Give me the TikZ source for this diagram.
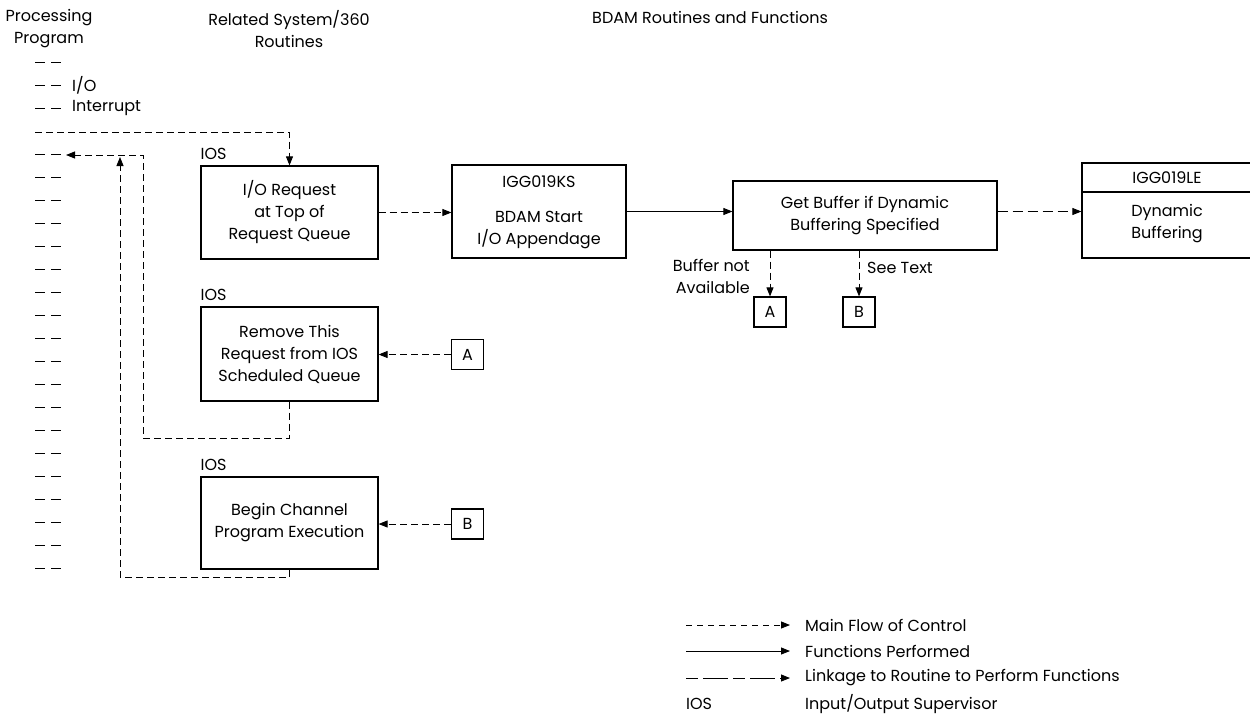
\documentclass[tikz,border=0pt]{standalone}
\usepackage{fontspec}
\setmainfont{Poppins}
\usetikzlibrary{arrows.meta}
\newcommand\myfs{\fontsize{16}{22}\selectfont}
\tikzset{
  box/.style={draw, line width=1.2pt, align=center, inner sep=0pt, font=\myfs},
  tx/.style={inner sep=0pt, font=\myfs, align=center},
  tip/.style={-{Triangle[length=9pt,width=7pt]}},
  mainflow/.style={line width=0.9pt, dash pattern=on 7pt off 4pt, tip},
  func/.style={line width=0.9pt, tip},
  linkflow/.style={line width=0.9pt, dash pattern=on 10pt off 5pt, tip},
  linklegend/.style={line width=0.9pt, dash pattern=on 12pt off 5pt on 25pt off 5pt, tip},
  coldash/.style={line width=0.9pt, dash pattern=on 10pt off 6pt},
}
\begin{document}
\begin{tikzpicture}[x=1pt,y=-1pt]
\useasboundingbox (0,0) rectangle (1250,715);

% headers
\node[tx] (hpp) at (49,29) {Processing\\Program};
\node[tx] (hrs) at (289,29) {Related System/360\\Routines};
\node[tx, anchor=west] (hbd) at (592,17) {BDAM Routines and Functions};

% left column
\foreach \k in {0,1,2,4,5,6,7,8,9,10,11,12,13,14,15,16,17,18,19,20,21,22}
  \draw[coldash] (35,62+23*\k) -- (61,62+23*\k);
\node[tx, anchor=west] (io) at (72,85) {I/O};
\node[tx, anchor=west] (intr) at (72,108) {Interrupt};

% boxes
\node[box, minimum width=177pt, minimum height=93pt] (req) at (289.5,212.5) {I/O Request\\at Top of\\Request Queue};
\node[box, minimum width=177pt, minimum height=94pt] (rem) at (289.5,354) {Remove This\\Request from IOS\\Scheduled Queue};
\node[box, minimum width=177pt, minimum height=92pt] (beg) at (289.5,523) {Begin Channel\\Program Execution};
\node[tx, anchor=base west] (ios1) at ([yshift=6pt]req.north west) {IOS};
\node[tx, anchor=base west] (ios2) at ([yshift=6pt]rem.north west) {IOS};
\node[tx, anchor=base west] (ios3) at ([yshift=6pt]beg.north west) {IOS};

\node[box, minimum width=174pt, minimum height=93pt] (ks) at (539,211.5) {};
\node[tx] (ksname) at (539,182) {IGG019KS};
\node[tx] (kstext) at (539,230) {BDAM Start\\I/O Appendage};

\node[box, minimum width=264pt, minimum height=69pt] (gb) at (865,215.5) {Get Buffer if Dynamic\\Buffering Specified};

\node[box, minimum width=172pt, minimum height=95pt] (le) at (1168,210.5) {};
\coordinate (lesep) at (1082,192);
\draw[line width=1.2pt] (lesep) -- (lesep -| le.east);
\node[tx] (lename) at (1167,178) {IGG019LE};
\node[tx] (letext) at (1167,224) {Dynamic\\Buffering};

% connector boxes
\node[box, minimum width=32pt, minimum height=30pt] (a1) at (770,312) {A};
\node[box, minimum width=32pt, minimum height=30pt] (b1) at (859,312) {B};
\node[box, minimum width=32pt, minimum height=30pt] (a2) at (467.5,354.5) {A};
\node[box, minimum width=32pt, minimum height=30pt] (b2) at (467.5,524) {B};
\node[tx, align=right, anchor=east] (bna) at (750,276) {Buffer not\\Available};
\node[tx, anchor=west] (seetext) at (867,268) {See Text};

% connectors
\coordinate (topstart) at (35,132);
\draw[mainflow] (topstart) -| (req.north);
\draw[mainflow] (req.east) -- (req.east -| ks.west);
\draw[func] (ks.east) -- (ks.east -| gb.west);
\draw[linkflow] (ks.east -| gb.east) -- (ks.east -| le.west);
\draw[mainflow] (a1.north |- gb.south) -- (a1.north);
\draw[mainflow] (b1.north |- gb.south) -- (b1.north);
\draw[mainflow] (a2.west) -- (a2.west -| rem.east);
\draw[mainflow] (b2.west) -- (b2.west -| beg.east);
\coordinate (r1) at (143,438);
\coordinate (r1top) at (143,155);
\coordinate (r1tip) at (66,155);
\draw[mainflow] (rem.south) |- (r1) -- (r1top) -- (r1tip);
\coordinate (r2) at (120,577);
\coordinate (r2top) at (120,157);
\draw[mainflow] (beg.south) |- (r2) -- (r2top);

% legend
\coordinate (l1s) at (686,625); \coordinate (l1e) at (790,625);
\draw[line width=0.9pt, dash pattern=on 6pt off 5pt, tip] (l1s) -- (l1e);
\node[tx, anchor=west] (lt1) at (805,625) {Main Flow of Control};
\coordinate (l2s) at (686,651); \coordinate (l2e) at (790,651);
\draw[func] (l2s) -- (l2e);
\node[tx, anchor=west] (lt2) at (805,651) {Functions Performed};
\coordinate (l3s) at (686,678); \coordinate (l3e) at (790,678);
\draw[linklegend] (l3s) -- (l3e);
\node[tx, anchor=west] (lt3) at (805,678) {Linkage to Routine to Perform Functions};
\node[tx, anchor=west] (lios) at (686,704) {IOS};
\node[tx, anchor=west] (lt4) at (805,704) {Input/Output Supervisor};
\end{tikzpicture}
\end{document}
